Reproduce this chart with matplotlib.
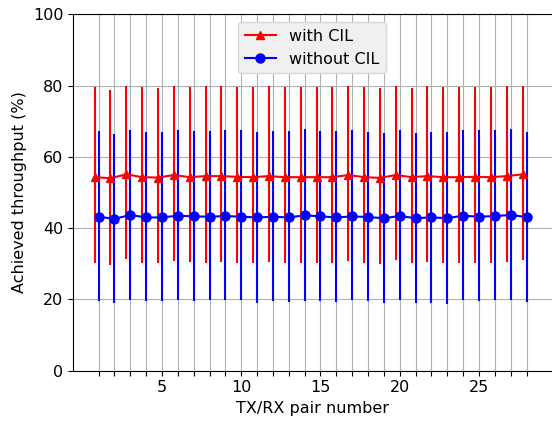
import matplotlib
matplotlib.use("Agg")
import matplotlib.pyplot as plt
from matplotlib.lines import Line2D
import numpy as np

pairs = list(range(1, 29))

with_cil_mean = [54.3, 54.0, 55.1, 54.3, 54.2, 54.9, 54.3, 54.6, 54.6, 54.4,
                 54.3, 54.6, 54.3, 54.3, 54.3, 54.3, 54.9, 54.3, 54.1, 54.9,
                 54.3, 54.6, 54.3, 54.3, 54.4, 54.3, 54.6, 55.1]
with_cil_low = [30.1, 29.7, 31.3, 30.3, 30.1, 30.9, 30.6, 30.3, 30.6, 30.3,
                30.3, 30.6, 30.3, 30.3, 30.3, 30.3, 30.9, 30.1, 29.9, 31.1,
                30.3, 30.6, 30.3, 30.3, 30.3, 30.3, 30.6, 31.1]
with_cil_high = [79.5, 78.9, 80.0, 79.5, 79.2, 79.8, 79.5, 79.8, 79.9, 79.5,
                 79.5, 79.8, 79.5, 79.5, 79.5, 79.5, 79.8, 79.5, 79.2, 80.0,
                 79.2, 79.8, 79.5, 79.5, 79.5, 79.5, 79.8, 80.0]

without_cil_mean = [43.2, 42.6, 43.7, 43.0, 43.0, 43.5, 43.3, 43.2, 43.4, 43.2,
                    43.0, 43.2, 43.0, 43.6, 43.3, 43.0, 43.3, 43.1, 42.8, 43.4,
                    42.8, 43.0, 42.8, 43.5, 43.2, 43.4, 43.7, 43.1]
without_cil_low = [19.6, 18.9, 19.7, 19.5, 19.5, 19.7, 19.5, 19.7, 19.7, 19.7,
                   19.1, 19.5, 19.4, 19.6, 19.5, 19.4, 19.7, 19.5, 19.1, 19.7,
                   19.1, 19.1, 18.8, 19.7, 19.5, 19.7, 19.9, 19.4]
without_cil_high = [67.3, 66.4, 67.5, 66.9, 66.9, 67.5, 67.2, 67.2, 67.5, 67.5,
                    66.9, 67.2, 67.2, 67.8, 67.2, 67.2, 67.5, 66.9, 66.7, 67.5,
                    66.7, 66.9, 66.9, 67.5, 67.5, 67.5, 67.8, 66.9]

y_ticks = [0, 20, 40, 60, 80, 100]
x_labelled = [5, 10, 15, 20, 25]
series_labels = ['with CIL', 'without CIL']

FS = 11.5
fig = plt.figure(figsize=(5.52, 4.22), dpi=100)
ax = fig.add_axes([73 / 552, 51.3 / 422, 484 / 552, 356.4 / 422])

x = np.array(pairs, dtype=float)
wm = np.array(with_cil_mean)
wom = np.array(without_cil_mean)
yerr_w = [wm - np.array(with_cil_low), np.array(with_cil_high) - wm]
yerr_wo = [wom - np.array(without_cil_low), np.array(without_cil_high) - wom]

ax.errorbar(x - 0.25, wm, yerr=yerr_w, fmt='-^', color='red', ecolor='red',
            lw=1.5, elinewidth=1.5, ms=6, capsize=0)
ax.errorbar(x, wom, yerr=yerr_wo, fmt='-o', color='blue', ecolor='blue',
            lw=1.5, elinewidth=1.5, ms=6.5, capsize=0)

ax.set_ylim(0, 100)
ax.set_xlim(-0.6125, 29.92)
ax.set_yticks(y_ticks)
ax.set_xticks(pairs)
ax.set_xticklabels([str(p) if p in x_labelled else '' for p in pairs])
ax.grid(True, color='#b0b0b0', lw=0.8)
ax.set_axisbelow(True)
ax.tick_params(labelsize=FS)
ax.set_xlabel('TX/RX pair number', fontsize=FS, x=(312 - 73) / 484)
ax.set_ylabel('Achieved throughput (%)', fontsize=FS)

handles = [Line2D([], [], color='red', marker='^', lw=1.5, ms=6),
           Line2D([], [], color='blue', marker='o', lw=1.5, ms=6.5)]
ax.legend(handles, series_labels, loc='upper center', fontsize=FS,
          bbox_to_anchor=((312 - 73) / 484, 1.0),
          facecolor='#f0f0f0', edgecolor='#d8d8d8', framealpha=1.0)

fig.savefig('out.png', dpi=100)
